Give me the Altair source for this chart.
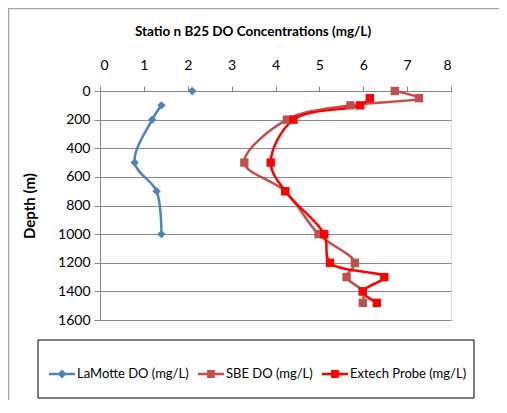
import altair as alt
import pandas as pd

depths = [0, 50, 100, 200, 500, 700, 1000, 1200, 1300, 1400, 1480]
lamotte = [2.10, None, 1.40, 1.19, 0.79, 1.29, 1.40, None, None, None, None]
sbe = [6.72, 7.27, 5.71, 4.26, 3.29, 4.22, 4.98, 5.81, 5.62, 5.99, 5.99]
extech = [None, 6.15, 5.93, 4.41, 3.89, 4.22, 5.11, 5.24, 6.48, 5.99, 6.31]
series_names = ["LaMotte DO (mg/L)", "SBE DO (mg/L)", "Extech Probe (mg/L)"]
series_colors = ["#4F81BD", "#C0504D", "#FF0000"]
x_ticks = [0, 1, 2, 3, 4, 5, 6, 7, 8]
y_ticks = [0, 200, 400, 600, 800, 1000, 1200, 1400, 1600]
chart_title = "Statio n B25 DO Concentrations (mg/L)"

rows = []
for name, vals in zip(series_names, [lamotte, sbe, extech]):
    for d, v in zip(depths, vals):
        rows.append({"series": name, "depth": d, "do": v})
df = pd.DataFrame(rows)

FONT = "Lato"
W, H = 351, 229

cscale = alt.Scale(domain=series_names, range=series_colors)
x = alt.X("do:Q", scale=alt.Scale(domain=[0, 8], nice=False),
          axis=alt.Axis(orient="top", values=x_ticks, grid=False, title=None,
                        labelFontSize=14, labelFont=FONT, labelColor="black",
                        domainColor="#868686", tickColor="#868686", tickSize=5,
                        labelPadding=14))
y = alt.Y("depth:Q", scale=alt.Scale(domain=[0, 1600], reverse=True, nice=False),
          axis=alt.Axis(values=y_ticks, grid=True, gridColor="#8c8c8c", format="d",
                        title="Depth (m)", titleFont=FONT, titleFontSize=15,
                        titleFontWeight="bold", titleColor="black",
                        titleX=-71, titleY=H / 2, titleAngle=270,
                        titleBaseline="middle", titleAlign="center",
                        labelFontSize=14, labelFont=FONT, labelColor="black",
                        domainColor="#868686", tickColor="#868686", tickSize=6,
                        labelPadding=4))

base = alt.Chart(df)

lines = base.mark_line(strokeWidth=2.5, interpolate="catmull-rom",
                       invalid="break-paths-show-domains").encode(
    x=x, y=y,
    color=alt.Color("series:N", sort=series_names, scale=cscale, legend=None),
    order=alt.Order("depth:Q"),
)

points = base.mark_point(filled=True, opacity=1, size=70).encode(
    x=x, y=y,
    color=alt.Color("series:N", sort=series_names, scale=cscale, legend=None),
    shape=alt.Shape("series:N", sort=series_names,
                    scale=alt.Scale(domain=series_names,
                                    range=["diamond", "square", "square"]),
                    legend=None),
)

# legend-only layer: symbols drawn as line + marker paths
diamond_leg = "M-1,-0.095H1V0.095H-1Z M0,-0.34L0.34,0L0,0.34L-0.34,0Z"
square_leg = "M-1,-0.095H1V0.095H-1Z M-0.3,-0.3H0.3V0.3H-0.3Z"
leg = alt.Legend(orient="none", legendX=-51, legendY=270,
                 direction="horizontal", title=None,
                 labelFont=FONT, labelFontSize=13, labelColor="black",
                 symbolSize=676, symbolStrokeWidth=0, symbolOpacity=1,
                 labelOffset=2, columnPadding=9, padding=0)
legend_layer = base.transform_filter("false").mark_point(filled=True, opacity=1).encode(
    x=x, y=y,
    color=alt.Color("series:N", sort=series_names, scale=cscale, legend=leg),
    shape=alt.Shape("series:N", sort=series_names,
                    scale=alt.Scale(domain=series_names,
                                    range=[diamond_leg, square_leg, square_leg]),
                    legend=leg),
)

one = pd.DataFrame({"a": [0]})
legend_box = alt.Chart(one).mark_rect(
    fill="white", stroke="black", strokeWidth=1).encode(
    x=alt.value(-62), x2=alt.value(374), y=alt.value(249), y2=alt.value(307))

frame_left = alt.Chart(one).mark_rule(color="#a6a6a6", strokeWidth=1.5).encode(
    x=alt.value(-91.5), y=alt.value(-83), y2=alt.value(318))
frame_top = alt.Chart(one).mark_rule(color="#a6a6a6", strokeWidth=1.5).encode(
    x=alt.value(-92), x2=alt.value(399), y=alt.value(-82.5))

title_text = alt.Chart(pd.DataFrame({"t": [chart_title]})).mark_text(
    font=FONT, fontSize=13.5, fontWeight="bold", color="black",
    align="center", baseline="middle").encode(
    text="t:N", x=alt.value(153), y=alt.value(-59))

chart = alt.layer(frame_left, frame_top, legend_box, title_text, lines, points,
                  legend_layer).resolve_scale(
    color="independent", shape="independent"
).properties(
    width=W, height=H,
    autosize=alt.AutoSizeParams(type="none"),
    padding={"left": 92, "top": 83, "right": 48, "bottom": 80},
).configure_view(stroke="#404040", strokeWidth=1.2).configure(background="white")

chart.save("out.html", embed_options={"renderer": "svg", "actions": False})
